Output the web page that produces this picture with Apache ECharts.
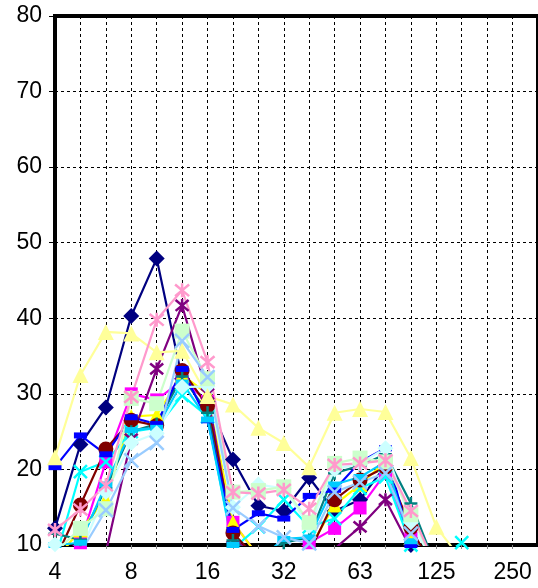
<!DOCTYPE html>
<html>
<head>
<meta charset="utf-8">
<script src="https://cdn.jsdelivr.net/npm/echarts@6/dist/echarts.min.js"></script>
<style>
  html, body { margin: 0; padding: 0; background: #fff; }
  #chart { width: 538px; height: 588px; }
</style>
</head>
<body>
<div id="chart"></div>
<script>
// sieve sizes (categories) and y ticks
var sizes = ['4','5','6.3','8','10','12.5','16','20','25','32','40','50','63','80','100','125','160','200','250','315'];
var yMin = 10, yMax = 80, yStep = 10;

// series values (values under 10 run out of the plot)
var s1  = [12.2, 23.3, 28.2, 40.3, 47.9, 32.0, 29.0, 21.3, 15.2, 14.5, 18.9, 14.5, 16.0, 20.5, 10.0, 6.0];
var s2  = [8.5, 10.3, 21.0, 30.0, 29.2, 31.8, 29.0, 13.0, 8.5, 8.5, 10.3, 12.2, 14.9, 19.5, 10.9, 6.0];
var s3  = [8.0, 12.0, 16.0, 27.0, 27.2, 32.5, 30.0, 13.0, 8.5, 9.0, 9.5, 15.3, 18.0, 21.0, 11.0, 6.0];
var s4  = [8.0, 19.7, 21.0, 25.0, 25.5, 29.8, 27.0, 9.5, 12.4, 16.0, 12.4, 13.5, 17.5, 19.0, 10.0, 8.0, 10.3, 7.0];
var s5  = [8.0, 7.0, 9.0, 24.0, 33.3, 41.7, 30.0, 11.0, 8.0, 7.0, 7.5, 9.5, 12.4, 16.0, 9.5, 6.0];
var s6  = [8.0, 15.3, 22.7, 26.5, 25.8, 33.1, 28.4, 11.6, 8.0, 9.7, 9.0, 16.0, 18.6, 20.3, 12.3, 6.0];
var s7  = [11.5, 10.7, 17.5, 25.0, 26.0, 32.3, 27.5, 10.6, 8.0, 10.3, 11.0, 19.5, 20.5, 22.0, 15.5, 7.0];
var s8  = [20.3, 24.5, 22.0, 26.9, 26.0, 33.3, 26.5, 12.0, 14.2, 13.5, 16.5, 17.3, 21.0, 22.8, 10.0, 6.0];
var s9  = [10.0, 10.3, 18.0, 25.2, 25.5, 31.5, 26.6, 10.0, 8.0, 10.8, 11.0, 18.0, 19.0, 21.0, 10.5, 6.0];
var s10 = [10.1, 9.0, 17.0, 23.5, 24.8, 30.9, 31.0, 15.0, 18.0, 17.5, 12.5, 20.0, 20.8, 22.8, 13.0, 7.0];
var s11 = [9.0, 12.2, 14.8, 29.4, 28.7, 38.3, 32.0, 17.0, 17.2, 17.7, 13.0, 20.8, 21.5, 21.0, 14.0, 7.0];
var s12 = [21.6, 32.5, 38.2, 38.0, 35.5, 35.7, 29.7, 28.6, 25.5, 23.5, 20.3, 27.5, 28.0, 27.6, 21.5, 12.4, 8.0];
var s13 = [9.0, 9.0, 14.6, 21.2, 23.5, 37.0, 32.2, 14.9, 12.5, 11.0, 10.2, 17.0, 18.3, 19.5, 11.5, 6.0];
var s14 = [12.0, 14.7, 17.9, 29.6, 39.8, 43.7, 34.2, 17.0, 16.8, 17.3, 14.8, 20.6, 20.8, 21.2, 14.5, 7.0];

var X_PATH = 'path://M0,0L10,10M10,0L0,10';
var STAR_PATH = 'path://M0,0L10,10M10,0L0,10M5,-1L5,11';
var PLUS_PATH = 'path://M5,0L5,10M0,5L10,5';

function line(data, color, symbol, size, stroke) {
    return {
        type: 'line',
        data: data,
        symbol: symbol,
        symbolSize: size,
        clip: true,
        animation: false,
        lineStyle: { color: color, width: 2.2 },
        itemStyle: {
            color: stroke ? 'none' : color,
            borderColor: color,
            borderWidth: stroke ? 2.5 : 0
        }
    };
}

var chart = echarts.init(document.getElementById('chart'));

var option = {
    backgroundColor: '#fff',
    textStyle: { fontFamily: 'Liberation Sans, Arial, sans-serif' },
    grid: {
        left: 55, top: 16, right: -7, bottom: 43,
        show: true, borderColor: '#000', borderWidth: 4
    },
    xAxis: {
        type: 'category',
        data: sizes,
        boundaryGap: false,
        axisLine: { lineStyle: { color: '#000', width: 4 } },
        axisTick: { show: true, interval: 0, length: 4, lineStyle: { color: '#888' } },
        axisLabel: {
            interval: function (i) { return i % 3 === 0; },
            color: '#000', fontSize: 23, margin: 16
        },
        splitLine: { show: true, interval: 0, lineStyle: { color: '#000', type: [3, 3], width: 1 } }
    },
    yAxis: {
        type: 'value',
        min: yMin, max: yMax, interval: yStep,
        axisLine: { show: true, lineStyle: { color: '#000', width: 4 } },
        axisTick: { show: true, length: 6, lineStyle: { color: '#000' } },
        axisLabel: { color: '#000', fontSize: 23, margin: 13 },
        splitLine: { show: true, lineStyle: { color: '#000', type: [3, 3], width: 1 } }
    },
    series: [
        line(s1,  '#000080', 'diamond', 16, false),
        line(s2,  '#FF00FF', 'rect', 13, false),
        line(s3,  '#FFFF00', 'triangle', 15, false),
        line(s4,  '#00FFFF', X_PATH, 13, true),
        line(s5,  '#800080', STAR_PATH, 13, true),
        line(s6,  '#800000', 'circle', 15, false),
        line(s7,  '#008080', PLUS_PATH, 13, true),
        line(s8,  '#0000FF', 'rect', [13, 6], false),
        line(s9,  '#00CCFF', 'rect', [13, 6], false),
        line(s10, '#CCFFFF', 'diamond', 16, false),
        line(s11, '#CCFFCC', 'rect', 15, false),
        line(s12, '#FFFF99', 'triangle', 16, false),
        line(s13, '#99CCFF', X_PATH, 14, true),
        line(s14, '#FF99CC', STAR_PATH, 14, true)
    ]
};

chart.setOption(option);
</script>
</body>
</html>
